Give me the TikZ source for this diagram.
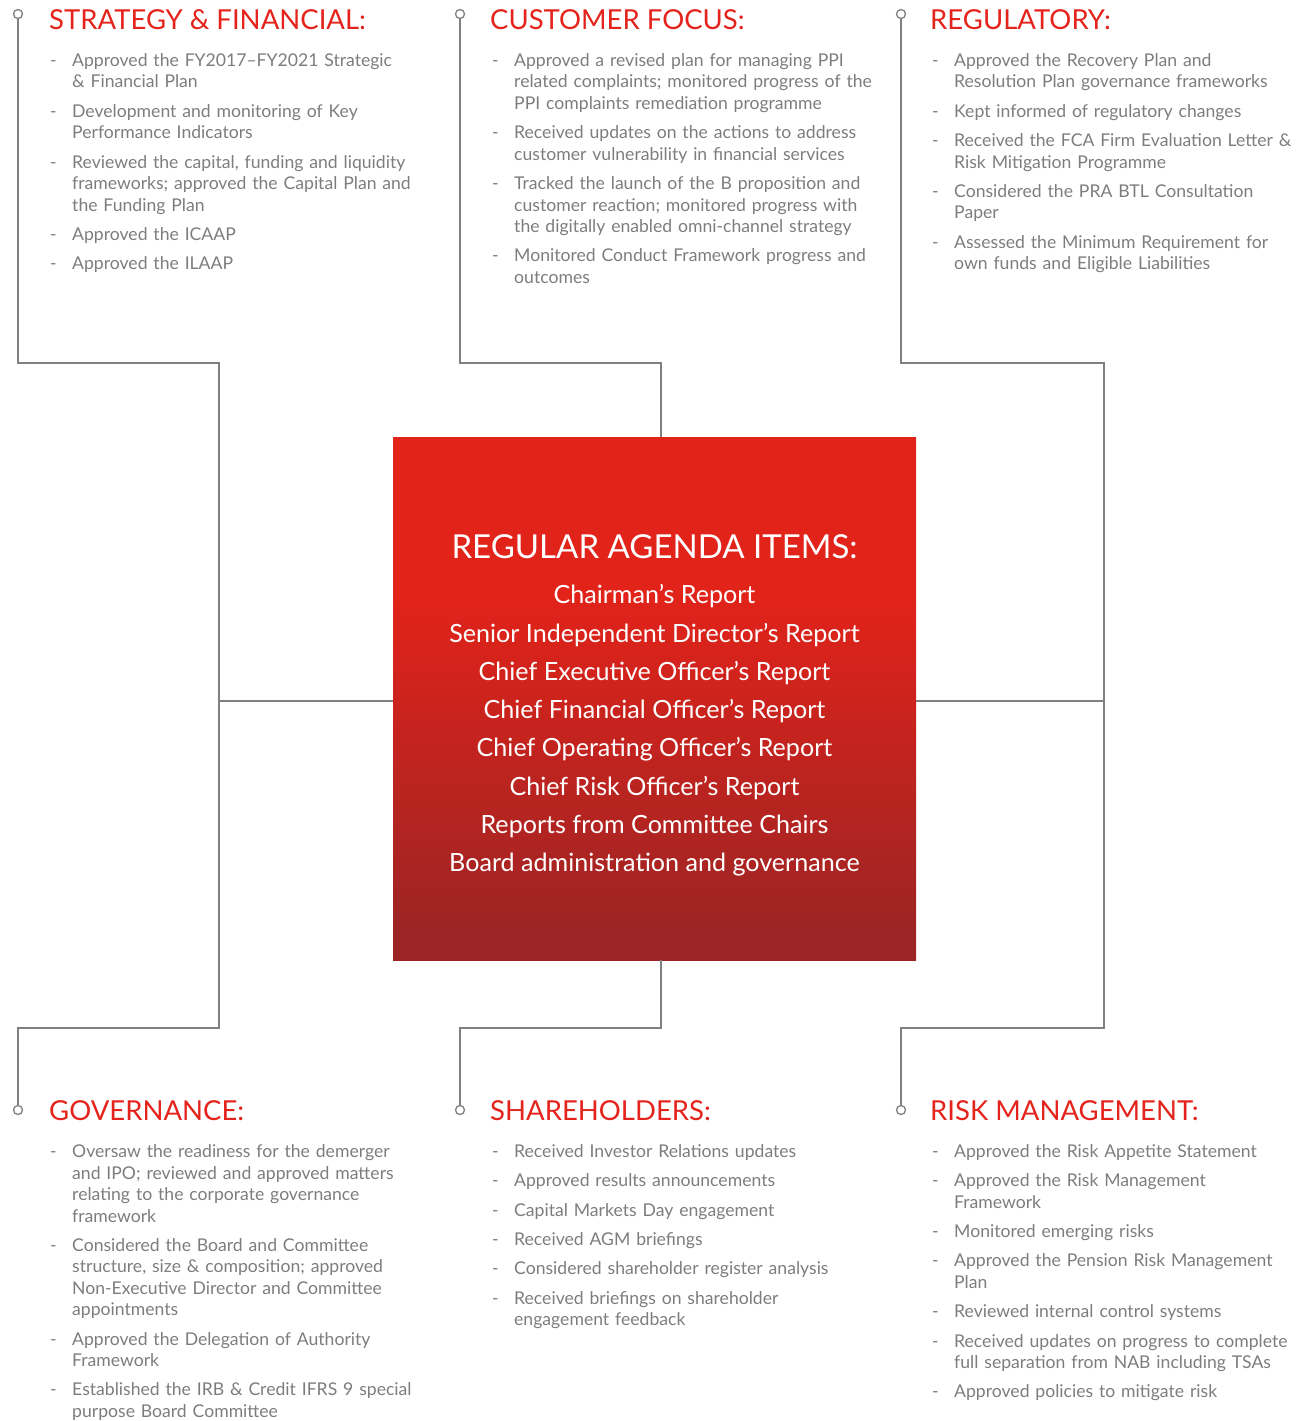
\documentclass[tikz,border=0pt]{standalone}
\usepackage{fontspec}
\setmainfont{Lato}
\usepackage{tikz}
\usetikzlibrary{positioning}
\definecolor{hdred}{RGB}{228,35,28}
\definecolor{txtgrey}{RGB}{125,125,125}
\definecolor{lnkgrey}{RGB}{128,128,128}
\definecolor{agred}{RGB}{226,35,26}
\definecolor{agdark}{RGB}{157,36,36}
% red box: flat red on top, darker towards the bottom
\pgfdeclareverticalshading{agendashade}{100bp}{color(0bp)=(agdark); color(28bp)=(agdark); color(60bp)=(agred); color(100bp)=(agred)}
% one line item: a dash, then hanging lines
\newcommand{\dashitem}[1]{\par\noindent\hangindent=22pt\hangafter=1\makebox[22pt][l]{-}#1\par\vspace{7.8pt}}
\tikzset{
    link/.style={
        line width=1.6pt,
        lnkgrey
    },
    knob/.style={
        circle, draw=lnkgrey, line width=1.3pt, fill=white,
        inner sep=0pt, minimum size=9pt
    },
    head/.style={
        anchor=base west, inner sep=0pt, hdred,
        font=\fontsize{27.5}{30}\selectfont
    },
    items/.style={
        anchor=base west, inner sep=0pt, text width=380pt, align=left, txtgrey,
        font=\fontsize{17.6}{21.5}\selectfont
    },
    agenda/.style={
        minimum width=523pt, minimum height=523pt, inner sep=0pt,
        shading=agendashade
    }
}
\begin{document}
\begin{tikzpicture}[x=1pt,y=-1pt]
   \useasboundingbox (0,0) rectangle (1296,1421);
   \path
    (219,363)  coordinate (l1)
    (219,1028) coordinate (l2)
    (661,363)  coordinate (m1)
    (661,1028) coordinate (m2)
    (1104,363) coordinate (r1)
    (1104,1028) coordinate (r2)
    (0,701)    coordinate (hz);

   % centre box
   \node[agenda] (box) at (654.5,698.5) {};
   \node[text=white, align=center, font=\fontsize{25.1}{38.3}\selectfont] (agtext) at ([yshift=-7pt]box.center) {{\fontsize{33}{48}\selectfont REGULAR AGENDA ITEMS:}\\[7pt]
      Chairman's Report\\
      Senior Independent Director's Report\\
      Chief Executive Officer's Report\\
      Chief Financial Officer's Report\\
      Chief Operating Officer's Report\\
      Chief Risk Officer's Report\\
      Reports from Committee Chairs\\
      Board administration and governance};

   % end knobs
   \node[knob] (k1) at (18,14) {};
   \node[knob] (k2) at (460,14) {};
   \node[knob] (k3) at (901,14) {};
   \node[knob] (k4) at (18,1110) {};
   \node[knob] (k5) at (460,1110) {};
   \node[knob] (k6) at (901,1110) {};

   % grey connectors
   \draw[link] (k1) |- (l1) -- (l2) -| (k4);
   \draw[link] (box.west |- hz) -- (l1 |- hz);
   \draw[link] (k2) |- (m1) -- (box.north -| m1);
   \draw[link] (box.south -| m2) -- (m2) -| (k5);
   \draw[link] (k3) |- (r1) -- (r2) -| (k6);
   \draw[link] (box.east |- hz) -- (r1 |- hz);

   % top row
   \node[head] (h1) at (49,30) {STRATEGY \& FINANCIAL:};
   \node[items] (t1) at (50,45) {%
      \dashitem{Approved the FY2017--FY2021 Strategic\newline\& Financial Plan}
      \dashitem{Development and monitoring of Key\newline Performance Indicators}
      \dashitem{Reviewed the capital, funding and liquidity\newline frameworks; approved the Capital Plan and\newline the Funding Plan}
      \dashitem{Approved the ICAAP}
      \dashitem{Approved the ILAAP}};

   \node[head] (h2) at (490,30) {CUSTOMER FOCUS:};
   \node[items] (t2) at (492,45) {%
      \dashitem{Approved a revised plan for managing PPI\newline related complaints; monitored progress of the\newline PPI complaints remediation programme}
      \dashitem{Received updates on the actions to address\newline customer vulnerability in financial services}
      \dashitem{Tracked the launch of the B proposition and\newline customer reaction; monitored progress with\newline the digitally enabled omni-channel strategy}
      \dashitem{Monitored Conduct Framework progress and\newline outcomes}};

   \node[head] (h3) at (930,30) {REGULATORY:};
   \node[items] (t3) at (932,45) {%
      \dashitem{Approved the Recovery Plan and\newline Resolution Plan governance frameworks}
      \dashitem{Kept informed of regulatory changes}
      \dashitem{Received the FCA Firm Evaluation Letter \&\newline Risk Mitigation Programme}
      \dashitem{Considered the PRA BTL Consultation\newline Paper}
      \dashitem{Assessed the Minimum Requirement for\newline own funds and Eligible Liabilities}};

   % bottom row
   \node[head] (h4) at (49,1120) {GOVERNANCE:};
   \node[items] (t4) at (50,1136) {%
      \dashitem{Oversaw the readiness for the demerger\newline and IPO; reviewed and approved matters\newline relating to the corporate governance\newline framework}
      \dashitem{Considered the Board and Committee\newline structure, size \& composition; approved\newline Non-Executive Director and Committee\newline appointments}
      \dashitem{Approved the Delegation of Authority\newline Framework}
      \dashitem{Established the IRB \& Credit IFRS 9 special\newline purpose Board Committee}};

   \node[head] (h5) at (490,1120) {SHAREHOLDERS:};
   \node[items] (t5) at (492,1136) {%
      \dashitem{Received Investor Relations updates}
      \dashitem{Approved results announcements}
      \dashitem{Capital Markets Day engagement}
      \dashitem{Received AGM briefings}
      \dashitem{Considered shareholder register analysis}
      \dashitem{Received briefings on shareholder\newline engagement feedback}};

   \node[head] (h6) at (930,1120) {RISK MANAGEMENT:};
   \node[items] (t6) at (932,1136) {%
      \dashitem{Approved the Risk Appetite Statement}
      \dashitem{Approved the Risk Management\newline Framework}
      \dashitem{Monitored emerging risks}
      \dashitem{Approved the Pension Risk Management\newline Plan}
      \dashitem{Reviewed internal control systems}
      \dashitem{Received updates on progress to complete\newline full separation from NAB including TSAs}
      \dashitem{Approved policies to mitigate risk}};
\end{tikzpicture}
\end{document}
